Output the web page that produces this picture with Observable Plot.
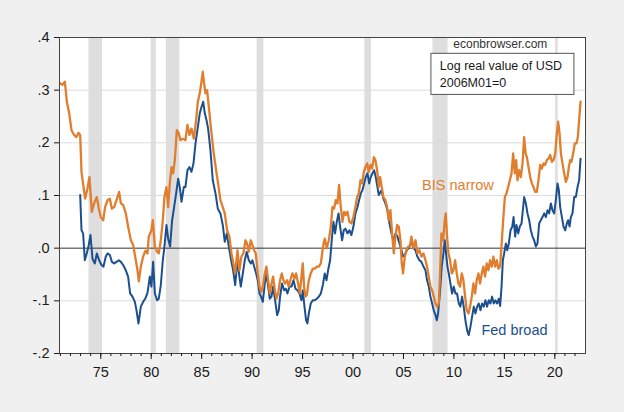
<!DOCTYPE html>
<html>
<head>
<meta charset="utf-8">
<script src="https://cdn.jsdelivr.net/npm/d3@7"></script>
<script src="https://cdn.jsdelivr.net/npm/@observablehq/plot@0.6"></script>
<style>
  html, body { margin: 0; padding: 0; background: #f0f0f0; }
  #chart { width: 624px; height: 412px; }
</style>
</head>
<body>
<div id="chart"></div>
<script>
// ---- Data ----
const bisYears = [1970.97,1971.2,1971.44,1971.64,1971.87,1972.1,1972.36,1972.59,1972.79,1972.96,1973.09,1973.29,1973.45,1973.68,1973.88,1974.11,1974.34,1974.61,1974.81,1975.0,1975.24,1975.43,1975.67,1975.9,1976.1,1976.33,1976.56,1976.82,1976.99,1977.22,1977.48,1977.71,1977.98,1978.21,1978.41,1978.64,1978.77,1978.97,1979.2,1979.43,1979.63,1979.76,1980.02,1980.16,1980.36,1980.59,1980.75,1980.95,1981.15,1981.31,1981.51,1981.68,1981.84,1982.01,1982.17,1982.34,1982.54,1982.73,1982.9,1983.13,1983.39,1983.59,1983.79,1983.99,1984.22,1984.45,1984.62,1984.81,1984.98,1985.11,1985.24,1985.38,1985.54,1985.71,1985.94,1986.2,1986.43,1986.63,1986.86,1987.09,1987.29,1987.52,1987.75,1987.95,1988.15,1988.32,1988.55,1988.74,1988.94,1989.14,1989.34,1989.5,1989.67,1989.87,1990.03,1990.2,1990.36,1990.56,1990.73,1990.89,1991.06,1991.26,1991.42,1991.59,1991.75,1991.92,1992.08,1992.25,1992.41,1992.58,1992.77,1992.94,1993.1,1993.27,1993.47,1993.63,1993.83,1994.0,1994.2,1994.36,1994.56,1994.72,1994.89,1995.02,1995.15,1995.29,1995.42,1995.62,1995.81,1996.01,1996.21,1996.41,1996.61,1996.81,1996.94,1997.07,1997.2,1997.4,1997.6,1997.8,1997.96,1998.12,1998.29,1998.46,1998.62,1998.79,1998.95,1999.12,1999.28,1999.45,1999.64,1999.84,2000.04,2000.24,2000.4,2000.57,2000.74,2000.9,2001.07,2001.23,2001.4,2001.56,2001.73,2001.89,2002.06,2002.22,2002.39,2002.55,2002.68,2002.85,2003.01,2003.21,2003.38,2003.54,2003.71,2003.87,2004.04,2004.2,2004.37,2004.53,2004.7,2004.83,2004.96,2005.13,2005.29,2005.46,2005.62,2005.79,2005.99,2006.19,2006.38,2006.58,2006.78,2006.98,2007.18,2007.34,2007.51,2007.67,2007.84,2008.0,2008.17,2008.33,2008.5,2008.63,2008.76,2008.93,2009.09,2009.19,2009.32,2009.46,2009.62,2009.79,2009.95,2010.12,2010.28,2010.45,2010.61,2010.78,2010.94,2011.11,2011.27,2011.44,2011.6,2011.77,2011.93,2012.1,2012.26,2012.43,2012.59,2012.76,2012.92,2013.09,2013.25,2013.42,2013.58,2013.75,2013.91,2014.08,2014.25,2014.41,2014.58,2014.7,2014.88,2015.05,2015.21,2015.38,2015.54,2015.71,2015.87,2016.04,2016.17,2016.3,2016.47,2016.63,2016.8,2016.96,2017.1,2017.23,2017.39,2017.56,2017.72,2017.89,2018.05,2018.22,2018.38,2018.55,2018.71,2018.88,2019.04,2019.21,2019.38,2019.54,2019.71,2019.87,2020.04,2020.17,2020.33,2020.47,2020.6,2020.76,2020.93,2021.09,2021.26,2021.39,2021.52,2021.65,2021.82,2021.98,2022.15,2022.28,2022.41,2022.55];
const bisValues = [0.313,0.31,0.316,0.278,0.256,0.224,0.215,0.211,0.219,0.215,0.145,0.116,0.094,0.113,0.135,0.069,0.085,0.097,0.075,0.059,0.053,0.078,0.091,0.094,0.075,0.078,0.091,0.107,0.085,0.082,0.066,0.041,0.015,0.006,-0.016,-0.042,-0.063,-0.035,-0.016,-0.005,-0.01,0.022,0.034,0.053,0.003,-0.007,-0.01,0.015,0.053,0.097,0.116,0.078,0.123,0.154,0.142,0.167,0.224,0.218,0.205,0.208,0.205,0.234,0.215,0.227,0.208,0.243,0.278,0.294,0.316,0.335,0.313,0.294,0.30,0.268,0.224,0.18,0.148,0.123,0.091,0.078,0.066,0.034,0.022,-0.01,-0.03,-0.048,-0.004,-0.042,-0.016,-0.01,0.015,0.009,-0.007,0.015,0.006,-0.004,-0.01,-0.048,-0.073,-0.083,-0.073,-0.048,-0.035,-0.061,-0.086,-0.067,-0.054,-0.08,-0.096,-0.086,-0.061,-0.048,-0.061,-0.067,-0.061,-0.073,-0.058,-0.048,-0.058,-0.048,-0.067,-0.086,-0.054,-0.029,-0.073,-0.092,-0.089,-0.061,-0.048,-0.039,-0.039,-0.035,-0.035,-0.029,-0.01,0.008,0.018,0.0,0.015,0.041,0.078,0.075,0.091,0.085,0.12,0.078,0.05,0.069,0.063,0.069,0.05,0.047,0.059,0.078,0.097,0.104,0.129,0.123,0.145,0.154,0.161,0.145,0.158,0.151,0.173,0.167,0.148,0.116,0.135,0.116,0.097,0.091,0.078,0.053,0.072,0.028,-0.01,0.022,0.044,0.041,0.015,-0.029,-0.048,-0.016,-0.004,0.003,0.003,0.022,0.0,0.015,-0.01,-0.004,-0.016,-0.01,-0.023,-0.035,-0.054,-0.073,-0.08,-0.092,-0.105,-0.111,-0.105,-0.048,0.028,0.015,0.053,0.066,0.022,-0.01,-0.023,-0.048,-0.042,-0.023,-0.048,-0.067,-0.073,-0.048,-0.061,-0.092,-0.118,-0.124,-0.111,-0.092,-0.067,-0.086,-0.061,-0.048,-0.067,-0.048,-0.035,-0.054,-0.029,-0.042,-0.023,-0.035,-0.016,-0.035,-0.023,-0.039,-0.035,0.0,0.053,0.097,0.104,0.116,0.129,0.142,0.18,0.142,0.167,0.129,0.148,0.135,0.161,0.211,0.18,0.173,0.154,0.135,0.123,0.116,0.107,0.107,0.129,0.158,0.151,0.161,0.158,0.167,0.17,0.177,0.164,0.167,0.18,0.211,0.24,0.218,0.18,0.161,0.142,0.126,0.135,0.154,0.167,0.164,0.18,0.199,0.199,0.211,0.243,0.278];

const fedYears = [1972.96,1973.09,1973.25,1973.42,1973.61,1973.78,1973.98,1974.18,1974.41,1974.61,1974.84,1975.07,1975.27,1975.5,1975.67,1975.9,1976.1,1976.33,1976.56,1976.79,1976.99,1977.22,1977.48,1977.71,1977.91,1978.14,1978.38,1978.54,1978.74,1978.97,1979.2,1979.43,1979.63,1979.86,1980.02,1980.19,1980.36,1980.59,1980.75,1980.95,1981.15,1981.31,1981.51,1981.68,1981.87,1982.07,1982.27,1982.47,1982.67,1982.83,1983.0,1983.23,1983.39,1983.59,1983.79,1983.99,1984.19,1984.39,1984.62,1984.81,1984.98,1985.15,1985.31,1985.48,1985.64,1985.87,1986.1,1986.37,1986.6,1986.86,1987.09,1987.29,1987.49,1987.69,1987.92,1988.12,1988.32,1988.55,1988.74,1988.88,1989.08,1989.27,1989.47,1989.67,1989.87,1990.03,1990.2,1990.4,1990.56,1990.73,1990.89,1991.06,1991.26,1991.42,1991.59,1991.75,1991.92,1992.08,1992.28,1992.48,1992.64,1992.77,1992.97,1993.17,1993.34,1993.5,1993.7,1993.9,1994.1,1994.3,1994.49,1994.69,1994.89,1995.02,1995.19,1995.35,1995.48,1995.62,1995.81,1996.01,1996.21,1996.41,1996.61,1996.81,1997.01,1997.2,1997.37,1997.53,1997.73,1997.89,1998.06,1998.22,1998.39,1998.56,1998.72,1998.92,1999.08,1999.25,1999.45,1999.64,1999.84,2000.04,2000.24,2000.44,2000.6,2000.77,2000.93,2001.1,2001.26,2001.43,2001.6,2001.76,2001.92,2002.09,2002.25,2002.42,2002.55,2002.82,2003.01,2003.21,2003.41,2003.61,2003.81,2004.01,2004.21,2004.4,2004.6,2004.8,2004.96,2005.13,2005.33,2005.52,2005.79,2005.99,2006.19,2006.38,2006.58,2006.78,2006.98,2007.18,2007.34,2007.51,2007.67,2007.84,2008.0,2008.17,2008.3,2008.43,2008.63,2008.79,2008.96,2009.09,2009.22,2009.36,2009.49,2009.65,2009.82,2009.98,2010.15,2010.31,2010.48,2010.64,2010.81,2010.97,2011.14,2011.31,2011.47,2011.64,2011.8,2011.97,2012.13,2012.3,2012.46,2012.63,2012.79,2012.96,2013.12,2013.29,2013.45,2013.62,2013.78,2013.95,2014.11,2014.28,2014.44,2014.58,2014.72,2014.85,2014.98,2015.15,2015.28,2015.44,2015.61,2015.78,2015.91,2016.07,2016.2,2016.37,2016.53,2016.7,2016.83,2016.96,2017.13,2017.29,2017.46,2017.62,2017.79,2017.95,2018.12,2018.28,2018.45,2018.61,2018.78,2018.95,2019.11,2019.28,2019.44,2019.61,2019.77,2019.94,2020.1,2020.27,2020.4,2020.53,2020.7,2020.86,2021.03,2021.19,2021.32,2021.46,2021.59,2021.75,2021.92,2022.08,2022.25,2022.41,2022.55];
const fedValues = [0.101,0.034,0.028,-0.023,-0.01,0.003,0.025,-0.02,-0.029,-0.01,-0.023,-0.032,-0.035,-0.016,-0.01,-0.013,-0.026,-0.029,-0.026,-0.023,-0.026,-0.032,-0.042,-0.054,-0.086,-0.092,-0.102,-0.118,-0.143,-0.111,-0.102,-0.095,-0.085,-0.054,-0.073,-0.026,-0.086,-0.099,-0.096,-0.07,-0.023,0.003,0.044,0.018,0.003,0.053,0.078,0.104,0.132,0.116,0.088,0.116,0.116,0.148,0.154,0.145,0.161,0.199,0.23,0.256,0.268,0.278,0.256,0.243,0.227,0.186,0.129,0.104,0.075,0.066,0.044,0.012,0.028,0.003,-0.023,-0.042,-0.07,-0.023,-0.054,-0.073,-0.048,-0.023,-0.007,-0.023,-0.029,-0.023,-0.035,-0.048,-0.061,-0.086,-0.092,-0.102,-0.067,-0.048,-0.073,-0.096,-0.092,-0.073,-0.099,-0.127,-0.118,-0.092,-0.067,-0.08,-0.077,-0.086,-0.073,-0.073,-0.061,-0.077,-0.08,-0.086,-0.099,-0.08,-0.111,-0.137,-0.143,-0.124,-0.105,-0.099,-0.099,-0.096,-0.092,-0.086,-0.07,-0.048,-0.061,-0.042,-0.023,0.015,0.05,0.028,0.05,0.066,0.041,0.015,0.034,0.037,0.028,0.034,0.025,0.041,0.066,0.078,0.091,0.104,0.11,0.123,0.135,0.142,0.123,0.135,0.142,0.148,0.135,0.116,0.101,0.11,0.094,0.085,0.072,0.047,0.028,0.015,0.028,0.022,0.009,-0.004,-0.016,-0.013,-0.004,0.0,0.012,0.0,-0.004,-0.016,-0.023,-0.026,-0.035,-0.042,-0.061,-0.073,-0.092,-0.105,-0.118,-0.127,-0.137,-0.124,-0.08,-0.035,-0.01,0.015,-0.01,-0.035,-0.048,-0.067,-0.086,-0.073,-0.086,-0.086,-0.105,-0.111,-0.092,-0.111,-0.137,-0.156,-0.165,-0.149,-0.13,-0.111,-0.124,-0.111,-0.105,-0.118,-0.105,-0.111,-0.099,-0.111,-0.099,-0.105,-0.092,-0.105,-0.099,-0.105,-0.096,-0.11,-0.073,-0.023,-0.01,0.009,-0.004,0.009,0.034,0.041,0.059,0.022,0.044,0.028,0.041,0.047,0.072,0.097,0.085,0.066,0.053,0.034,0.022,0.015,0.003,0.009,0.047,0.053,0.059,0.066,0.059,0.072,0.066,0.085,0.072,0.066,0.091,0.123,0.11,0.078,0.059,0.041,0.034,0.047,0.053,0.041,0.059,0.066,0.097,0.097,0.116,0.129,0.17];

const recessionStart = [1973.83, 1980.0, 1981.5, 1990.5, 2001.17, 2007.92, 2020.08];
const recessionEnd   = [1975.17, 1980.5, 1982.83, 1991.17, 2001.83, 2009.42, 2020.33];

const yTicks = [-0.2, -0.1, 0, 0.1, 0.2, 0.3, 0.4];
const yTickLabels = ["-.2", "-.1", ".0", ".1", ".2", ".3", ".4"];
const yGrid = [-0.1, 0.1, 0.2, 0.3];
const xTicks = [1975, 1980, 1985, 1990, 1995, 2000, 2005, 2010, 2015, 2020];
const xTickLabels = ["75", "80", "85", "90", "95", "00", "05", "10", "15", "20"];
const xMinorTicks = d3.range(1971, 2023);

// ---- Tables built from arrays ----
const bis = bisYears.map((x, i) => ({x, y: bisValues[i]}));
const fed = fedYears.map((x, i) => ({x, y: fedValues[i]}));
const recessions = recessionStart.map((s, i) => ({start: s, end: recessionEnd[i]}));

const ORANGE = "#e07e2e";
const BLUE = "#1c4f8e";

const chart = Plot.plot({
  width: 624,
  height: 412,
  marginLeft: 59,
  marginRight: 39,
  marginTop: 37,
  marginBottom: 59,
  style: {background: "transparent", fontFamily: "'Liberation Sans', Arial, sans-serif", fontSize: "14.5px", color: "#1a1a1a"},
  x: {domain: [1970.91, 2023.04]},
  y: {domain: [-0.2, 0.4]},
  marks: [
    Plot.frame({fill: "white", stroke: null}),
    Plot.rect(recessions, {x1: "start", x2: "end", fill: "#dedede"}),
    Plot.ruleY(yGrid, {stroke: "#dcdcdc", strokeWidth: 1}),
    Plot.ruleY([0], {stroke: "#333", strokeWidth: 1}),
    Plot.line(fed, {x: "x", y: "y", stroke: BLUE, strokeWidth: 2}),
    Plot.line(bis, {x: "x", y: "y", stroke: ORANGE, strokeWidth: 2.3}),
    Plot.text(["BIS narrow"], {x: 2010.4, y: 0.119, fill: ORANGE, fontSize: 14.5, textAnchor: "middle"}),
    Plot.text(["Fed broad"], {x: 2016.0, y: -0.156, fill: BLUE, fontSize: 14.5, textAnchor: "middle"}),
    Plot.text(["econbrowser.com"], {x: 2014.6, y: 0.388, fill: "#333", fontSize: 12, textAnchor: "middle"}),
    Plot.rect([0], {x1: 2007.77, x2: 2021.94, y1: 0.291, y2: 0.369, fill: "white", stroke: "#555", strokeWidth: 1}),
    Plot.text(["Log real value of USD"], {x: 2008.6, y: 0.346, fill: "#1a1a1a", fontSize: 12.5, textAnchor: "start"}),
    Plot.text(["2006M01=0"], {x: 2008.6, y: 0.314, fill: "#1a1a1a", fontSize: 12.5, textAnchor: "start"}),
    Plot.frame({stroke: "#444", strokeWidth: 1}),
    Plot.axisY({ticks: yTicks, tickSize: 5, tickPadding: 5, tickFormat: d => yTickLabels[yTicks.indexOf(d)], label: null}),
    Plot.axisX({ticks: xMinorTicks, tickSize: 3, tickFormat: () => "", label: null}),
    Plot.axisX({ticks: xTicks, tickSize: 6, tickPadding: 7, tickFormat: d => xTickLabels[xTicks.indexOf(d)], label: null})
  ]
});
document.getElementById("chart").appendChild(chart);
</script>
</body>
</html>
